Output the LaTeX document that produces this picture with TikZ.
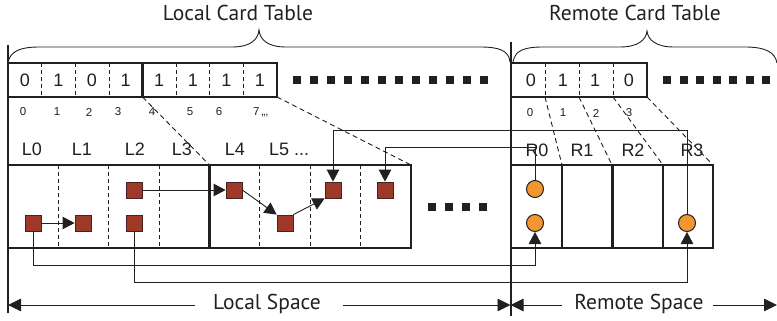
\documentclass[tikz,border=0pt]{standalone}
\usepackage{fontspec}
\setmainfont{Liberation Sans}
\newfontfamily\myriad{PT Sans}
\usetikzlibrary{arrows.meta,calc}
\definecolor{objred}{RGB}{158,56,40}
\definecolor{objedge}{RGB}{70,35,30}
\definecolor{remorange}{RGB}{242,150,48}
\definecolor{ink}{RGB}{35,31,32}
\begin{document}
\begin{tikzpicture}[x=1pt,y=-1pt,
  color=ink,
  thickline/.style={line width=2.4pt},
  celldash/.style={line width=0.8pt, dash pattern=on 4pt off 3pt},
  proj/.style={line width=0.9pt, dash pattern=on 5pt off 3.5pt},
  obj/.style={draw=objedge, line width=0.8pt, fill=objred, minimum size=16pt, inner sep=0pt},
  rem/.style={circle, draw=ink, line width=1pt, fill=remorange, minimum size=17pt, inner sep=0pt},
  dotsq/.style={fill=ink, minimum size=8pt, inner sep=0pt},
  conn/.style={line width=0.9pt},
  arr/.style={conn, -{Triangle[length=12pt,width=12.5pt]}},
  barr/.style={line width=0.9pt, -{Triangle[length=13pt,width=12.5pt]}},
  bit/.style={inner sep=0pt, font=\fontsize{18}{18}\selectfont},
  idx/.style={inner sep=0pt, font=\fontsize{11.5}{11.5}\selectfont},
  lab/.style={inner sep=0pt, font=\fontsize{18}{18}\selectfont},
  title/.style={inner sep=0pt, font=\myriad\fontsize{21.5}{21.5}\selectfont},
  brace/.style={line width=0.9pt},
]
\useasboundingbox (0,0) rectangle (777,321);

% titles and braces
\node[title] (tloc) at (238,13) {Local Card Table};
\node[title] (trem) at (635,13) {Remote Card Table};
\draw[brace] (8,62) .. controls (11,50) and (22,47) .. (40,47) -- (232,47)
  .. controls (250,47) and (258,40) .. (259,30)
  .. controls (260,40) and (268,47) .. (286,47) -- (480,47)
  .. controls (498,47) and (509,50) .. (510,62);
\draw[brace] (513,62) .. controls (515,50) and (525,47) .. (543,47) -- (620,47)
  .. controls (638,47) and (646,40) .. (647,31)
  .. controls (648,40) and (656,47) .. (674,47) -- (745,47)
  .. controls (765,47) and (775,52) .. (777,63);

% main vertical separators
\draw[thickline] (8,45) -- (8,313);
\draw[thickline] (511,42) -- (511,316);

% local card table
\draw[thickline] (8,63) rectangle (277,97);
\draw[thickline] (142.5,63) -- (142.5,97);
\foreach \x in {41.6,75.2,108.9,176,209.7,243.3}
  \draw[celldash] (\x,63) -- (\x,97);
\foreach \v [count=\i from 0] in {0,1,0,1,1,1,1,1}
  \node[bit] (lb\i) at ({24.8+33.6*\i},80.5) {\v};
\foreach \i in {0,...,11}
  \node[dotsq] (ld\i) at ({297+17*\i},80.5) {};

% local indices
\node[idx] (li0) at (23,112) {0};
\node[idx] (li1) at (57,112) {1};
\node[idx] (li2) at (89,112) {2};
\node[idx] (li3) at (118,112) {3};
\node[idx] (li4) at (152,112) {4};
\node[idx] (li5) at (190,112) {5};
\node[idx] (li6) at (219,112) {6};
\node[idx, anchor=west] (li7) at (253,112) {7\,,,,};

% local labels
\node[lab] (L0) at (32,149) {L0};
\node[lab] (L1) at (82,149) {L1};
\node[lab] (L2) at (135,149) {L2};
\node[lab] (L3) at (182,149) {L3};
\node[lab] (L4) at (235,149) {L4};
\node[lab, anchor=west] (L5) at (269,149) {L5 ...};

% local memory
\draw[thickline] (8,165) rectangle (411,248);
\draw[thickline] (209.5,165) -- (209.5,248);
\foreach \x in {58.4,108.8,159.1,259.7,310,360.4}
  \draw[celldash] (\x,165) -- (\x,248);
\foreach \i in {0,...,3}
  \node[dotsq] (md\i) at ({432+17*\i},207) {};

% projection lines
\draw[proj] (142.5,97) -- (209.5,165);
\draw[proj] (277,97) -- (411,165);
\draw[proj] (545,97) -- (562,165);
\draw[proj] (579,97) -- (612,165);
\draw[proj] (613,97) -- (663,165);
\draw[proj] (647,97) -- (713,165);

% remote card table
\draw[thickline] (511,63) rectangle (647,97);
\foreach \x in {545,579,613}
  \draw[celldash] (\x,63) -- (\x,97);
\node[bit] (rb0) at (531,80.5) {0};
\node[bit] (rb1) at (563,80.5) {1};
\node[bit] (rb2) at (595,80.5) {1};
\node[bit] (rb3) at (629,80.5) {0};
\foreach \i in {0,...,6}
  \node[dotsq] (rd\i) at ({667+16.5*\i},80.5) {};

\node[idx] (ri0) at (530,113) {0};
\node[idx] (ri1) at (563,113) {1};
\node[idx] (ri2) at (596,113) {2};
\node[idx] (ri3) at (629,113) {3};

\node[lab] (R0) at (537,150) {R0};
\node[lab] (R1) at (582,150) {R1};
\node[lab] (R2) at (633,150) {R2};
\node[lab] (R3) at (692,150) {R3};

% remote memory
\draw[thickline] (511,165) rectangle (713,248);
\foreach \x in {562,612.5,663}
  \draw[thickline] (\x,165) -- (\x,248);

% objects
\node[obj] (o0) at (33,223) {};
\node[obj] (o1) at (83,223) {};
\node[obj] (o2t) at (134,190) {};
\node[obj] (o2b) at (134,223) {};
\node[obj] (o4) at (234,190) {};
\node[obj] (o5) at (285,223) {};
\node[obj] (o6) at (333,190) {};
\node[obj] (o7) at (385,190) {};
\node[rem] (r0t) at (535,189) {};
\node[rem] (r0b) at (535,223) {};
\node[rem] (r3) at (687,223) {};

% local references
\draw[arr] (o0) -- (o1);
\draw[arr] (o2t) -- (o4);
\draw[arr] (o4.east) -- (o5.north west);
\draw[arr] (o5.north east) -- (o6.south west);

% cross references
\draw[arr] (o0.south) -- ++(0,34) -| (r0b.south);
\draw[arr] (o2b.south) -- ++(0,51) -| (r3.south);
\draw[arr] (r0t.north) -- ++(0,-32.5) -| (o7.north);
\draw[arr] (r3.north) -- ++(0,-83.5) -| (o6.north);

% spaces
\node[title] (ls) at (267,304) {Local Space};
\node[title] (rs) at (639,304) {Remote Space};
\coordinate (lsl) at (195,305);
\coordinate (lsr) at (343,305);
\coordinate (rsl) at (562,305);
\coordinate (rsr) at (713,305);
\coordinate (sepL) at (8,305);
\coordinate (sepM) at (510.5,305);
\coordinate (sepR) at (777,305);
\draw[barr] (lsl) -- (sepL);
\draw[barr] (lsr) -- (sepM);
\draw[barr] (rsl) -- (sepM);
\draw[barr] (rsr) -- (sepR);
\end{tikzpicture}
\end{document}
